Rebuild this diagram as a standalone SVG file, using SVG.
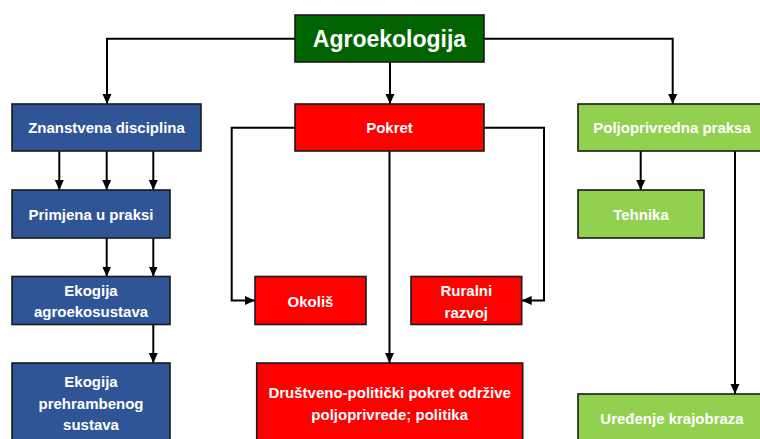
<svg xmlns="http://www.w3.org/2000/svg" width="760" height="439" viewBox="0 0 760 439">
<style>
.box{stroke:#1a1a1a;stroke-width:1.6}
.blue{fill:#2F5597}.red{fill:#FF0000}.lg{fill:#92D050}.dg{fill:#006400}
text{font-family:"Liberation Sans",Arial,sans-serif;font-weight:bold;fill:#fff;text-anchor:middle;font-size:15px}
.big{font-size:23px}
.c{fill:none;stroke:#000;stroke-width:2}
</style>
<defs>
<marker id="ah" viewBox="0 0 10 10" refX="10" refY="5" markerWidth="10" markerHeight="10" markerUnits="userSpaceOnUse" orient="auto">
<path d="M0,0.5 L10,5 L0,9.5 z" fill="#000"/>
</marker>
</defs>
<rect width="760" height="439" fill="#fff"/>
<g id="connectors">
<path class="c" d="M295,38.7 H107 V104" marker-end="url(#ah)"/>
<path class="c" d="M484,38.7 H672.7 V104" marker-end="url(#ah)"/>
<path class="c" d="M390,62 V104" marker-end="url(#ah)"/>
<path class="c" d="M59.3,151 V190" marker-end="url(#ah)"/>
<path class="c" d="M106.7,151 V190" marker-end="url(#ah)"/>
<path class="c" d="M153.3,151 V190" marker-end="url(#ah)"/>
<path class="c" d="M106.7,238 V276.5" marker-end="url(#ah)"/>
<path class="c" d="M153.3,238 V276.5" marker-end="url(#ah)"/>
<path class="c" d="M153.3,324.5 V363" marker-end="url(#ah)"/>
<path class="c" d="M295,127.7 H231.7 V300.5 H255" marker-end="url(#ah)"/>
<path class="c" d="M484,127.7 H544 V300.5 H521.7" marker-end="url(#ah)"/>
<path class="c" d="M389.5,151 V363" marker-end="url(#ah)"/>
<path class="c" d="M640.7,151 V190" marker-end="url(#ah)"/>
<path class="c" d="M735,151 V394" marker-end="url(#ah)"/>
</g>
<g id="agroekologija"><rect class="box dg" x="295" y="15" width="189" height="47"/><text class="big" x="389.5" y="46.5">Agroekologija</text></g>
<g id="znanstvena"><rect class="box blue" x="12" y="104" width="189" height="47"/><text x="106.5" y="133">Znanstvena disciplina</text></g>
<g id="pokret"><rect class="box red" x="295" y="104" width="189" height="47"/><text x="389.5" y="133">Pokret</text></g>
<g id="poljoprivredna"><rect class="box lg" x="578" y="104" width="188" height="47"/><text x="672" y="133">Poljoprivredna praksa</text></g>
<g id="primjena"><rect class="box blue" x="12" y="190" width="158" height="48"/><text x="91" y="219.5">Primjena u praksi</text></g>
<g id="tehnika"><rect class="box lg" x="578" y="190" width="126" height="48"/><text x="641" y="219.5">Tehnika</text></g>
<g id="ekogija-agro"><rect class="box blue" x="12" y="276.5" width="158" height="48"/><text x="91" y="295.5">Ekogija</text><text x="91" y="317">agroekosustava</text></g>
<g id="okolis"><rect class="box red" x="255" y="276.5" width="111" height="48"/><text x="310.5" y="306.5">Okoliš</text></g>
<g id="ruralni"><rect class="box red" x="411" y="276.5" width="110.7" height="48"/><text x="466.3" y="295.5">Ruralni</text><text x="466.3" y="318">razvoj</text></g>
<g id="ekogija-prehr"><rect class="box blue" x="12" y="363" width="158" height="82"/><text x="91" y="387">Ekogija</text><text x="91" y="408.5">prehrambenog</text><text x="91" y="430">sustava</text></g>
<g id="drustveno"><rect class="box red" x="256.7" y="363" width="266" height="82"/><text x="389.7" y="398">Društveno-politički pokret održive</text><text x="389.7" y="419.5">poljoprivrede; politika</text></g>
<g id="uredenje"><rect class="box lg" x="578" y="394" width="188" height="52"/><text x="672" y="423.5">Uređenje krajobraza</text></g>
</svg>
